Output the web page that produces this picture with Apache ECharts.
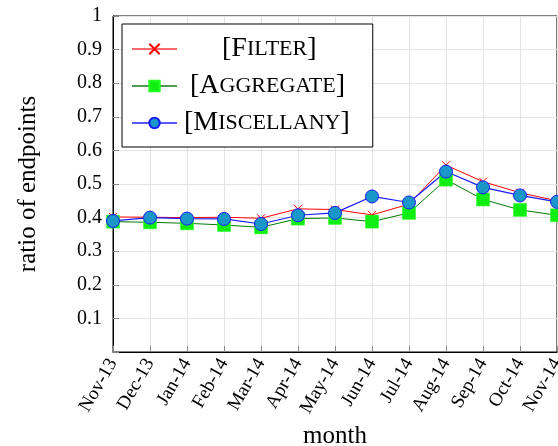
<!DOCTYPE html>
<html><head><meta charset="utf-8">
<script src="https://cdn.jsdelivr.net/npm/echarts@6/dist/echarts.min.js"></script>
<style>html,body{margin:0;padding:0;background:#fff}#c{width:558px;height:446px}</style>
</head><body><div id="c"></div>
<script>
const months = ['Nov-13','Dec-13','Jan-14','Feb-14','Mar-14','Apr-14','May-14','Jun-14','Jul-14','Aug-14','Sep-14','Oct-14','Nov-14'];
const filterVals = [0.402,0.401,0.400,0.401,0.398,0.426,0.424,0.408,0.440,0.556,0.507,0.474,0.450];
const aggregateVals = [0.388,0.386,0.383,0.378,0.371,0.397,0.399,0.388,0.414,0.513,0.454,0.423,0.407];
const miscVals = [0.390,0.400,0.397,0.396,0.381,0.407,0.414,0.463,0.445,0.537,0.490,0.466,0.447];
const yTicks = [0,0.1,0.2,0.3,0.4,0.5,0.6,0.7,0.8,0.9,1];

const serif = '"Liberation Serif","DejaVu Serif",serif';
const chart = echarts.init(document.getElementById('c'));
const offsets = {'Filter':40,'Aggregate':8,'Miscellany':2};
chart.setOption({
  animation:false,
  grid:{left:113,right:1,top:16,bottom:94,show:true,borderColor:'#000',borderWidth:1,containLabel:false,outerBoundsMode:'none'},
  legend:{
    orient:'vertical',left:122,top:24,
    padding:[11,23,10,9],itemGap:9,itemWidth:45,itemHeight:13,
    backgroundColor:'#fff',borderColor:'#000',borderWidth:1,
    selectedMode:false,
    formatter:function(n){
      const u=n.toUpperCase();
      return '{g'+n+'|}{b|['+u[0]+'}{s|'+u.slice(1)+'}{b|]}';
    },
    textStyle:{fontFamily:serif,color:'#000',rich:{
      gFilter:{width:offsets.Filter},
      gAggregate:{width:offsets.Aggregate},
      gMiscellany:{width:offsets.Miscellany},
      b:{fontFamily:serif,fontSize:28,lineHeight:30,color:'#000'},
      s:{fontFamily:serif,fontSize:22,lineHeight:30,color:'#000'}
    }},
    data:[
      {name:'Filter',lineStyle:{color:'#ff6a6a'}},
      {name:'Aggregate',lineStyle:{color:'#4f9a4f'}},
      {name:'Miscellany',lineStyle:{color:'#5a5aff'}}
    ]
  },
  xAxis:{
    type:'category',data:months,boundaryGap:false,
    name:'month',nameLocation:'middle',nameGap:71,
    nameTextStyle:{fontFamily:serif,fontSize:25,color:'#000'},
    axisLine:{lineStyle:{color:'#000'}},
    axisTick:{inside:true,length:6,lineStyle:{color:'#888'}},
    axisLabel:{rotate:60,fontFamily:serif,fontSize:19,color:'#000',margin:8},
    splitLine:{show:true,lineStyle:{color:'#e3e3e3'}}
  },
  yAxis:{
    type:'value',min:0,max:1,interval:0.1,
    name:'ratio of endpoints',nameLocation:'middle',nameGap:72,nameRotate:90,
    nameTextStyle:{fontFamily:serif,fontSize:25,color:'#000'},
    axisLine:{show:true,lineStyle:{color:'#000'}},
    axisTick:{show:true,inside:true,length:6,lineStyle:{color:'#888'}},
    axisLabel:{fontFamily:serif,fontSize:20,color:'#000',margin:11,
      formatter:function(v){const t=yTicks.find(x=>Math.abs(x-v)<1e-9);return (t===undefined||t===0)?'':String(+t.toFixed(1));}},
    splitLine:{show:true,lineStyle:{color:'#e3e3e3'}}
  },
  series:[
    {name:'Filter',type:'line',data:filterVals,
     symbol:'path://M0,0L10,10M10,0L0,10',symbolSize:8,
     lineStyle:{color:'#ff0000',width:1},
     itemStyle:{color:'#ff0000',borderColor:'#ff0000',borderWidth:1}},
    {name:'Aggregate',type:'line',data:aggregateVals,
     symbol:'rect',symbolSize:13,
     lineStyle:{color:'#007a00',width:1},
     itemStyle:{color:'#11ee11',borderColor:'#22ff22',borderWidth:0.5}},
    {name:'Miscellany',type:'line',data:miscVals,
     symbol:'circle',symbolSize:13,
     lineStyle:{color:'#1a1aff',width:1.2},
     itemStyle:{color:'#1a97c8',borderColor:'#1a1aff',borderWidth:1}}
  ]
});
</script></body></html>
